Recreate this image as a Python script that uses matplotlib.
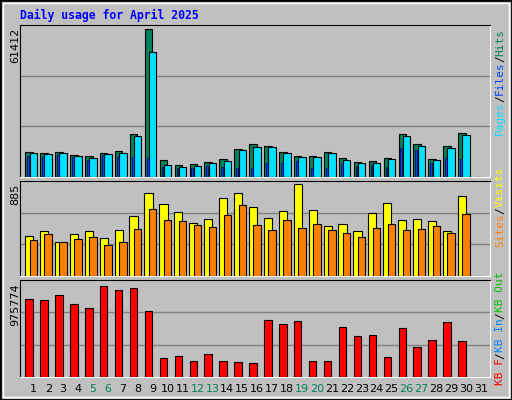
import matplotlib
matplotlib.use("Agg")
import matplotlib.pyplot as plt
import numpy as np

days = list(range(1, 32))
weekend = [5, 6, 12, 13, 19, 20, 26, 27]
hits = [10140, 9720, 10140, 8890, 8470, 9720, 10560, 17640, 61412, 6810, 4720, 5140, 5970, 7220, 11390, 13470, 12640, 10140, 8470, 8470, 10140, 7640, 5970, 6390, 7640, 17640, 13470, 7220, 12640, 18060, 0]
pages = [9720, 9310, 9720, 8470, 7640, 9310, 9720, 16810, 51810, 4720, 3890, 4310, 5560, 6390, 10970, 12220, 12220, 9720, 8060, 8060, 9720, 6810, 5560, 5560, 7220, 16810, 12640, 6810, 11810, 17220, 0]
files = [8470, 8060, 8890, 8060, 6810, 8890, 8060, 8060, 7640, 3890, 3470, 3470, 4310, 3890, 3470, 3470, 5560, 5560, 6390, 3470, 3470, 5140, 4310, 4720, 3890, 11810, 10970, 5560, 7640, 7220, 0]
visits = [385, 433, 327, 404, 433, 365, 442, 577, 798, 693, 615, 510, 548, 750, 798, 664, 558, 625, 885, 635, 481, 500, 433, 606, 702, 539, 548, 529, 433, 769, 0]
sites = [346, 404, 327, 356, 375, 298, 327, 452, 644, 539, 529, 490, 471, 587, 683, 490, 442, 539, 462, 500, 442, 414, 375, 462, 500, 442, 452, 481, 414, 596, 0]
kbytes = [836880, 826200, 879620, 783470, 740740, 975774, 933040, 954410, 708690, 206550, 227920, 174500, 249290, 174500, 163810, 153130, 612530, 569800, 601850, 174500, 174500, 537750, 441600, 452280, 217240, 527060, 324070, 398850, 591170, 388170, 0]

BG = "#C0C0C0"
W, H = 512, 400
fig = plt.figure(figsize=(W/100, H/100), dpi=100, facecolor=BG)
x = np.array(days, dtype=float)

def mkax(top, bot, maxbar_px, maxval):
    ax = fig.add_axes([20/W, 1-bot/H, 470/W, (bot-top)/H])
    ax.set_facecolor(BG)
    ytop = maxval*(bot-top)/maxbar_px
    ax.set_ylim(0, ytop)
    ax.set_xlim(0.11, 31.6)
    for f in (1/3, 2/3):
        ax.axhline(ytop*f, color="#808080", lw=1, zorder=0)
    ax.set_xticks([]); ax.set_yticks([])
    for s in ("left", "top"):
        ax.spines[s].set_color("black")
    for s in ("right", "bottom"):
        ax.spines[s].set_color("white")
    return ax

kw = dict(edgecolor="black", linewidth=0.8, align="center", zorder=3)
a1 = mkax(25, 176.7, 147.3, 61412)
a1.bar(x-0.28, hits, 0.5, color="#00805C", **kw)
a1.bar(x+0.0, pages, 0.5, color="#00E0FF", **kw)
a1.bar(x-0.34, files, 0.12, color="#0040FF", edgecolor="#000040", linewidth=0.5, zorder=4)

a2 = mkax(181, 276, 92, 885)
a2.bar(x-0.28, visits, 0.55, color="#FFFF00", **kw)
a2.bar(x+0.0, sites, 0.5, color="#FF8000", **kw)

a3 = mkax(280, 377, 91.3, 975774)
a3.bar(x-0.28, kbytes, 0.5, color="#FF0000", **kw)

for d in days:
    fig.text((33.3+(d-1)*14.93)/W, 1-389/H, str(d), ha="center", va="center", fontsize=8,
             color="#00805C" if d in weekend else "black")

fig.text(20/W, 1-15/H, "Daily usage for April 2025", family="DejaVu Sans Mono", weight="bold",
         fontsize=8.3, color="#0000FF", ha="left", va="center")
for y, t in [(28, "61412"), (184, "885"), (283, "975774")]:
    fig.text(15/W, 1-y/H, t, rotation=90, ha="center", va="top", fontsize=8)

def vlabel(ybottom, parts):
    y = ybottom
    for t, c in parts:
        fig.text(500/W, 1-y/H, t, rotation=90, ha="center", va="bottom", fontsize=8,
                 family="DejaVu Sans Mono", color=c)
        y -= len(t)*6.6

vlabel(135, [("Pages", "#00E0FF"), ("/", "black"), ("Files", "#0040FF"), ("/", "black"), ("Hits", "#00805C")])
vlabel(247, [("Sites", "#FF8000"), ("/", "black"), ("Visits", "#FFFF00")])
vlabel(385, [("KB F", "#FF0000"), ("/", "black"), ("KB In", "#0080FF"), ("/", "black"), ("KB Out", "#00C000")])

# outer border
fig.patches.append(plt.Rectangle((0, 0), 1, 1, transform=fig.transFigure, fill=False,
                                 edgecolor="#000000", linewidth=2))
fig.patches.append(plt.Rectangle((3/W, 3/H), 1-6/W, 1-6/H, transform=fig.transFigure, fill=False,
                                 edgecolor="white", linewidth=1))
fig.savefig("out.png", dpi=100, facecolor=BG)
